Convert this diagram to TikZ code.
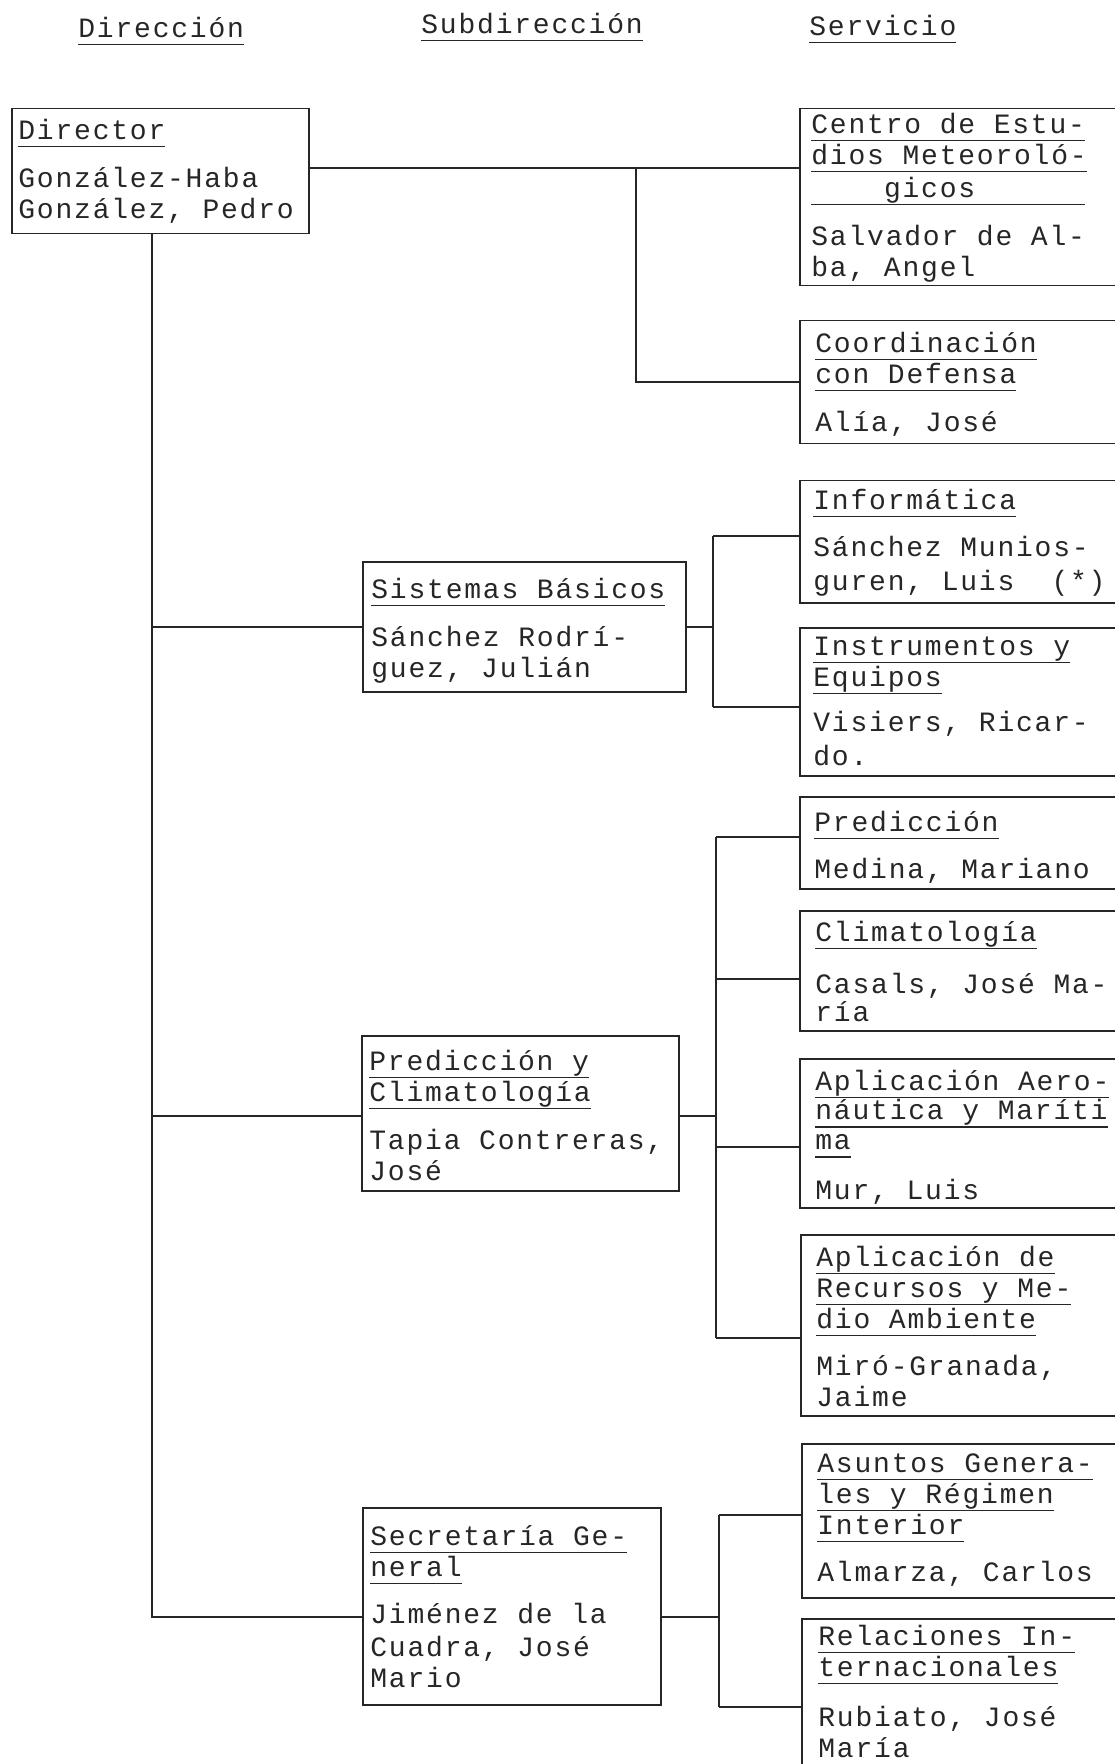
\documentclass[tikz,border=0pt]{standalone}
\usepackage{fontspec}
\usepackage{tikz}
\newfontfamily\maquina[LetterSpace=6.4]{Liberation Mono}
\newcommand{\subr}[1]{\setbox0=\hbox{#1}\rlap{\rule[-3.9pt]{\wd0}{0.75pt}}\box0}
\newcommand{\alto}{\rule{0pt}{12.5pt}}

\begin{document}
\begin{tikzpicture}[x=0.5pt, y=-0.5pt,
    unidad/.style={draw=black!85, line width=0.75pt, inner sep=0pt, anchor=north west},
    servicio/.style={unidad, minimum width=165.5pt},
    texto/.style={inner sep=0pt, anchor=north west, align=left, text=black!85,
        font=\maquina\fontsize{14pt}{15.5pt}\selectfont}]
        \useasboundingbox (0,0) rectangle (1114,1764);

        % cabeceras
        \node[texto] (h1) at (78,12) {\alto\subr{Dirección}};
        \node[texto] (h2) at (421,8) {\alto\subr{Subdirección}};
        \node[texto] (h3) at (809,10) {\alto\subr{Servicio}};

        % cajas
        \node[unidad, minimum width=148.5pt, minimum height=62.5pt] (dir) at (11,108) {};
        \node[unidad, minimum width=161.5pt, minimum height=65pt] (sb) at (362,561) {};
        \node[unidad, minimum width=158.5pt, minimum height=77.5pt] (pc) at (361,1035) {};
        \node[unidad, minimum width=149pt, minimum height=98.5pt] (sg) at (362,1507) {};

        \node[servicio, minimum height=88.5pt] (ce) at (799,108) {};
        \node[servicio, minimum height=61.5pt] (cd) at (799,320) {};
        \node[servicio, minimum height=61pt] (inf) at (799,480) {};
        \node[servicio, minimum height=74pt] (ie) at (799,627) {};
        \node[servicio, minimum height=46pt] (pr) at (799,796) {};
        \node[servicio, minimum height=60pt] (cl) at (799,910) {};
        \node[servicio, minimum height=74.5pt] (aa) at (799,1058) {};
        \node[servicio, minimum height=90.5pt] (ar) at (800,1234) {};
        \node[servicio, minimum height=77pt] (ag) at (801,1443) {};
        \node[servicio, minimum height=95pt] (ri) at (801,1618) {};

        % textos
        \node[texto] (dir-t) at (18,114) {\alto\subr{Director}\\[8.5pt]
            González-Haba\\ González, Pedro};
        \node[texto] (sb-t) at (371,573) {\alto\subr{Sistemas Básicos}\\[8.5pt]
            Sánchez Rodrí-\\ guez, Julián};
        \node[texto] (pc-t) at (369,1045) {\alto\subr{Predicción y}\\ \subr{Climatología}\\[8.5pt]
            Tapia Contreras,\\ José};
        \node[texto] (sg-t) at (370,1520) {\alto\subr{Secretaría Ge-}\\ \subr{neral}\\[8pt]
            Jiménez de la\\[1pt] Cuadra, José\\ Mario};

        \node[texto] (ce-t) at (811,108) {\alto\subr{Centro de Estu-}\\ \subr{dios Meteoroló-}\\[1pt]
            \subr{\hphantom{xxxx}gicos\hphantom{xxxxxx}}\\[8.5pt] Salvador de Al-\\ ba, Angel};
        \node[texto] (cd-t) at (815,327) {\alto\subr{Coordinación}\\ \subr{con Defensa}\\[8.5pt]
            Alía, José};
        \node[texto] (inf-t) at (813,484) {\alto\subr{Informática}\\[8pt]
            Sánchez Munios-\\[1.5pt] guren, Luis~~(*)};
        \node[texto] (ie-t) at (813,630) {\alto\subr{Instrumentos y}\\ \subr{Equipos}\\[7pt]
            Visiers, Ricar-\\[1.5pt] do.};
        \node[texto] (pr-t) at (814,806) {\alto\subr{Predicción}\\[8pt] Medina, Mariano};
        \node[texto] (cl-t) at (815,916) {\alto\subr{Climatología}\\[10.5pt]
            Casals, José Ma-\\[-1.5pt] ría};
        \node[texto] (aa-t) at (815,1065) {\alto\subr{Aplicación Aero-}\\[-0.75pt]
            \subr{náutica y Maríti}\\[-0.5pt] \subr{ma}\\[9.5pt] Mur, Luis};
        \node[texto] (ar-t) at (816,1241) {\alto\subr{Aplicación de}\\ \subr{Recursos y Me-}\\
            \subr{dio Ambiente}\\[8pt] Miró-Granada,\\ Jaime};
        \node[texto] (ag-t) at (817,1447) {\alto\subr{Asuntos Genera-}\\ \subr{les y Régimen}\\
            \subr{Interior}\\[8pt] Almarza, Carlos};
        \node[texto] (ri-t) at (818,1620) {\alto\subr{Relaciones In-}\\ \subr{ternacionales}\\[9.5pt]
            Rubiato, José\\ María};

        % puntos de enlace
        \coordinate (a1) at (636,168);
        \coordinate (a2) at (636,382);
        \coordinate (s0) at (152,233);
        \coordinate (s1) at (152,627);
        \coordinate (s2) at (152,1116);
        \coordinate (s3) at (152,1617);
        \coordinate (b0) at (713,627);
        \coordinate (b1) at (713,536);
        \coordinate (b2) at (713,707);
        \coordinate (c0) at (716,1116);
        \coordinate (c1) at (716,837);
        \coordinate (c2) at (716,979);
        \coordinate (c3) at (716,1147);
        \coordinate (c4) at (716,1338);
        \coordinate (d0) at (719,1617);
        \coordinate (d1) at (719,1515);
        \coordinate (d2) at (719,1707);

        \begin{scope}[line width=0.75pt, draw=black!85]
        \draw (a1 -| dir.east) -- (a1 -| ce.west);
        \draw (a1) -- (a2) -- (a2 -| cd.west);
        \draw (s0) -- (s3) -- (s3 -| sg.west);
        \draw (b1) -- (b2);
        \draw (c1) -- (c4);
        \draw (d1) -- (d2);
        \foreach \from/\to in {s1/sb, s2/pc, b1/inf, b2/ie, c1/pr, c2/cl, c3/aa, c4/ar, d1/ag, d2/ri}
            \draw (\from) -- (\from -| \to.west);
        \foreach \from/\to in {b0/sb, c0/pc, d0/sg}
            \draw (\from) -- (\from -| \to.east);
        \end{scope}
\end{tikzpicture}
\end{document}
